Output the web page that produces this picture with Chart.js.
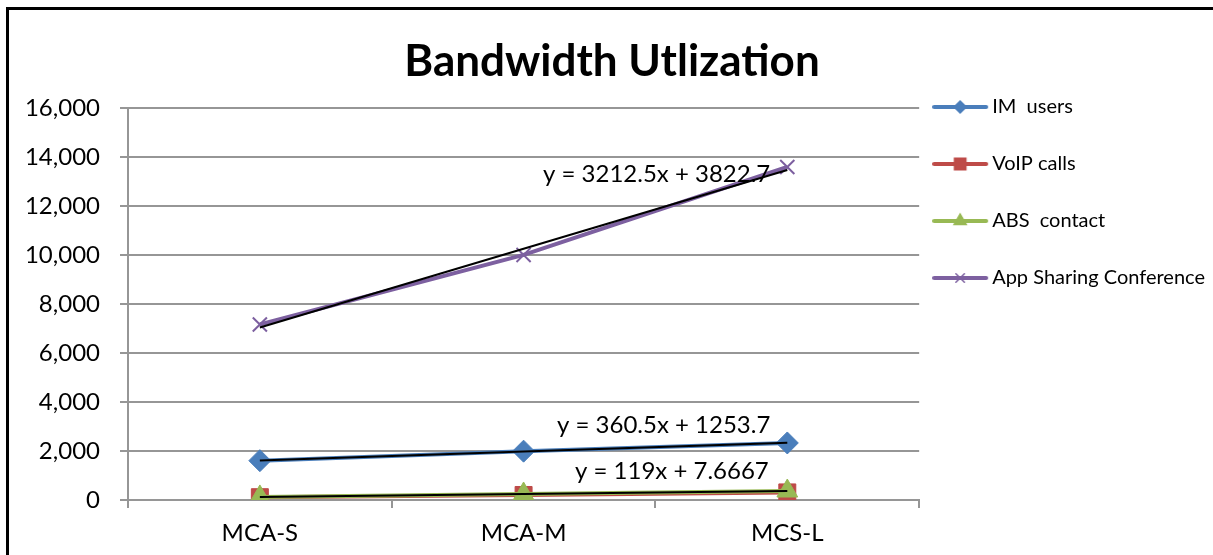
<!DOCTYPE html>
<html lang="en">
<head>
  <meta charset="UTF-8">
  <title>Bandwidth Utlization</title>
  <script src="https://cdn.jsdelivr.net/npm/chart.js"></script>
  <style>
    body {
      margin: 0;
      background: #fff;
      overflow: hidden;
    }
    .wrap {
      position: relative;
      width: 1213px;
      height: 555px;
    }
    .frame {
      position: absolute;
      left: 6px;
      top: 7px;
      width: 1300px;
      height: 700px;
      border-left: 3px solid #000;
      border-top: 3px solid #000;
      pointer-events: none;
    }
  </style>
</head>
<body>

<div class="wrap">
  <canvas id="bwChart" width="1213" height="555"></canvas>
  <div class="frame"></div>
</div>

<script>
  // categories and series
  const categories = ['MCA-S', 'MCA-M', 'MCS-L'];
  const imUsers = [1605, 1992, 2327];
  const voipCalls = [115, 205, 310];
  const absContact = [125, 245, 367];
  const appSharing = [7160, 9998, 13585];

  // trendline equations shown on the chart: [slope, intercept]
  const appTrend = [3212.5, 3822.7];
  const imTrend = [360.5, 1253.7];
  const absTrend = [119, 7.6667];

  const yTicks = [0, 2000, 4000, 6000, 8000, 10000, 12000, 14000, 16000];

  const FONT = 'Lato, "Open Sans", sans-serif';
  const GRID = '#969696';

  function trendValues(eq) {
    return categories.map((c, i) => eq[0] * (i + 1) + eq[1]);
  }

  // legend sample: short line with the marker in the middle
  function legendIcon(color, style, radius) {
    const c = document.createElement('canvas');
    c.width = 74;
    c.height = 22;
    const g = c.getContext('2d');
    g.strokeStyle = color;
    g.lineWidth = 4;
    g.lineCap = 'round';
    g.beginPath();
    g.moveTo(2, 11);
    g.lineTo(54, 11);
    g.stroke();
    g.fillStyle = color;
    g.lineWidth = 1.5;
    Chart.helpers.drawPoint(g, { pointStyle: style, radius: radius, rotation: 0, borderWidth: 1.5 }, 28, 11);
    return c;
  }

  const series = [
    { label: 'IM  users', data: imUsers, color: '#4A7EBB', style: 'rectRot', r: 11, order: 5, legendR: 6 },
    { label: 'VoIP calls', data: voipCalls, color: '#BE4B48', style: 'rect', r: 12, order: 4, legendR: 8 },
    { label: 'ABS  contact', data: absContact, color: '#98B954', style: 'triangle', r: 12, order: 3, legendR: 7 },
    { label: 'App Sharing Conference', data: appSharing, color: '#7D60A0', style: 'crossRot', r: 10, order: 2, legendR: 6 }
  ];

  const datasets = series.map(s => ({
    label: s.label,
    data: s.data,
    borderColor: s.color,
    backgroundColor: s.color,
    borderWidth: 4,
    pointStyle: s.style,
    pointRadius: s.r,
    pointBorderWidth: s.style === 'crossRot' ? 2 : 1,
    pointBorderColor: s.color,
    pointBackgroundColor: s.color,
    order: s.order,
    legendIcon: legendIcon(s.color, s.style, s.legendR),
    tension: 0
  }));

  [appTrend, imTrend, absTrend].forEach(eq => {
    datasets.push({
      label: 'trend',
      isTrend: true,
      data: trendValues(eq),
      borderColor: '#000',
      borderWidth: 2,
      pointRadius: 0,
      order: 0
    });
  });

  // trendline equation labels
  const trendLabels = [
    { text: 'y = 3212.5x + 3822.7', x: 543, y: 174 },
    { text: 'y = 360.5x + 1253.7', x: 557, y: 425 },
    { text: 'y = 119x + 7.6667', x: 575, y: 471 }
  ];

  const trendText = {
    id: 'trendText',
    afterDatasetsDraw(chart) {
      const ctx = chart.ctx;
      ctx.save();
      ctx.font = '24px ' + FONT;
      ctx.fillStyle = '#000';
      ctx.textBaseline = 'middle';
      trendLabels.forEach(t => ctx.fillText(t.text, t.x, t.y));
      ctx.restore();
    }
  };

  // the legend spans the full height; move its entries down beside the plot
  const legendShift = {
    id: 'legendShift',
    afterLayout(chart) {
      const lg = chart.legend;
      lg.top += 60;
      lg.bottom += 60;
    }
  };

  const ctx = document.getElementById('bwChart').getContext('2d');
  new Chart(ctx, {
    type: 'line',
    data: { labels: categories, datasets: datasets },
    options: {
      responsive: false,
      animation: false,
      layout: { padding: { left: 9, right: -2, top: 0, bottom: 0 } },
      plugins: {
        title: {
          display: true,
          text: 'Bandwidth Utlization',
          color: '#000',
          font: { family: FONT, size: 44, weight: 'bold' },
          padding: { top: 35, bottom: 20 }
        },
        legend: {
          position: 'right',
          align: 'start',
          labels: {
            color: '#000',
            font: { family: FONT, size: 20 },
            padding: 37,
            usePointStyle: true,
            pointStyleWidth: 26,
            filter: item => !datasets[item.datasetIndex].isTrend,
            sort: (a, b) => a.datasetIndex - b.datasetIndex,
            generateLabels(chart) {
              return chart.data.datasets.map((d, i) => ({
                text: d.label,
                datasetIndex: i,
                pointStyle: d.legendIcon,
                fillStyle: d.borderColor,
                strokeStyle: d.borderColor,
                lineWidth: 0,
                hidden: false
              }));
            }
          }
        },
        tooltip: { enabled: false }
      },
      scales: {
        x: {
          offset: true,
          afterFit(scale) {
            scale.height = 55;
          },
          grid: {
            offset: true,
            drawOnChartArea: false,
            color: GRID,
            lineWidth: 2,
            tickLength: 8
          },
          border: { color: GRID, width: 2 },
          ticks: {
            color: '#000',
            padding: 11,
            font: { family: FONT, size: 24 }
          }
        },
        y: {
          min: 0,
          max: 16000,
          afterBuildTicks(scale) {
            scale.ticks = yTicks.map(v => ({ value: v }));
          },
          afterFit(scale) {
            scale.width = 119;
          },
          grid: {
            color: GRID,
            lineWidth: 2,
            tickLength: 8
          },
          border: { color: GRID, width: 2 },
          ticks: {
            color: '#000',
            padding: 20,
            font: { family: FONT, size: 24 },
            callback: v => v.toLocaleString('en-US')
          }
        }
      }
    },
    plugins: [trendText, legendShift]
  });
</script>

</body>
</html>
